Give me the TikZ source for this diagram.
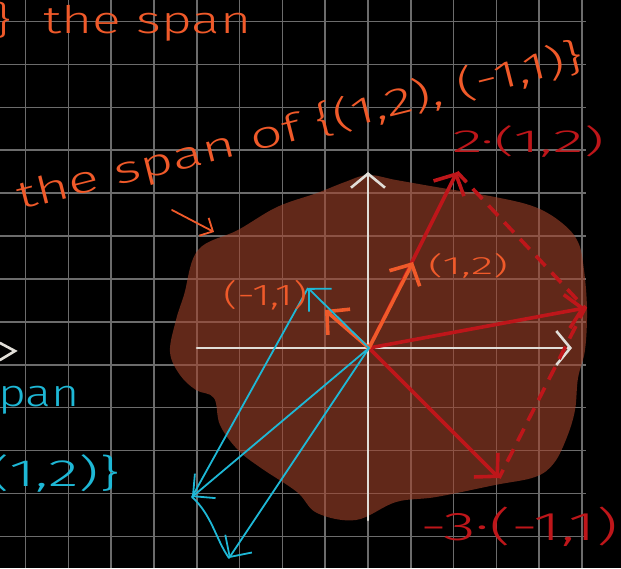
\documentclass[tikz,border=0pt]{standalone}
\usepackage{fontspec}
\setmainfont{Fira Sans}[UprightFont={* Light}]
\usetikzlibrary{arrows.meta}

\definecolor{gridgray}{RGB}{108,108,108}
\definecolor{blobbrown}{RGB}{162,67,43}
\definecolor{spanorange}{RGB}{240,90,42}
\definecolor{vecred}{RGB}{190,22,26}
\definecolor{spancyan}{RGB}{30,184,214}
\definecolor{axiswhite}{RGB}{225,222,216}

\newcommand{\handtext}[2]{\resizebox{#1}{\height}{#2}}

\begin{document}
\begin{tikzpicture}[x=1pt, y=-1pt,
    gridline/.style={draw=gridgray, line width=1.6pt},
    axis/.style={draw=axiswhite, line width=2.6pt, line cap=round, -{Straight Barb[length=14pt,width=34pt]}},
    vec/.style={line width=3.6pt, line cap=round, -{Straight Barb[length=16pt,width=34pt]}},
    thin vec/.style={draw=spancyan, line width=1.8pt, line cap=round, -{Straight Barb[length=16pt,width=32pt]}},
    helper/.style={draw=vecred, line width=3.6pt, dash pattern=on 14pt off 9pt},
    lbl/.style={inner sep=0pt, anchor=base west}
]
\useasboundingbox (0,0) rectangle (621,568);
\fill[black] (0,0) rectangle (621,568);
\foreach \gx in {0,...,13}
  \draw[gridline] ({25.6+42.8*\gx},0) -- ({25.6+42.8*\gx},568);
\foreach \gy in {0,...,12}
  \draw[gridline] (0,{21.5+42.9*\gy}) -- (586,{21.5+42.9*\gy});
\fill[blobbrown, opacity=0.6] plot[smooth cycle, tension=0.6] coordinates {
  (198,250) (238,230) (277,207) (317,193) (345,182) (368,175) (396,180) (436,187)
  (495,197) (535,207) (562,223) (578,242) (584,270) (587,310) (585,350) (578,378)
  (575,410) (567,437) (554,463) (535,477) (495,485) (436,497) (396,502) (356,520)
  (317,513) (297,492) (261,468) (238,450) (220,425) (214,398) (196,390) (180,375)
  (170,352) (176,320) (184,295)};
\coordinate (O) at (369,348);
\coordinate (xend) at (572,348);
\coordinate (xstart) at (197,348);
\coordinate (yend) at (368,172);
\coordinate (ystart) at (368,520);
\coordinate (p12) at (413,262);
\coordinate (pm11) at (325,310);
\coordinate (q2) at (457,172);
\coordinate (qsum) at (585,308);
\coordinate (qm3) at (499,478);
\coordinate (ca) at (308,288);
\coordinate (cb) at (192,497);
\coordinate (cc) at (229,558);
\coordinate (ptail) at (172,210);
\coordinate (phead) at (214,232);
\draw[axis] (xstart) -- (xend);
\draw[axis] (ystart) -- (yend);
\draw[draw=axiswhite, line width=2.6pt, line cap=round] (0,343) -- (15,351) -- (0,360);
\draw[helper] (q2) -- (qsum) -- (qm3);
\draw[vec, vecred] (O) -- (q2);
\draw[vec, vecred] (O) -- (qsum);
\draw[vec, vecred] (O) -- (qm3);
\draw[vec, spanorange] (O) -- (p12);
\draw[vec, spanorange] (O) -- (pm11);
\draw[thin vec] (O) -- (ca);
\draw[draw=spancyan, line width=1.8pt] (ca) -- (cb);
\draw[thin vec] (O) -- (cb);
\draw[thin vec] (O) -- (cc);
\draw[draw=spancyan, line width=1.8pt, line cap=round] (cb) .. controls (212,515) and (216,540) .. (cc);
\draw[draw=spanorange, line width=1.8pt, line cap=round, -{Straight Barb[length=10pt,width=20pt]}] (ptail) -- (phead);
\node[lbl, spanorange, font=\fontsize{38}{38}\selectfont] (topspan) at (-6,33) {\handtext{257pt}{\}\hspace{0.6em}the span}};
\node[lbl, spanorange, rotate=14.1, font=\fontsize{38}{38}\selectfont] (spanof) at (20,210) {\handtext{583pt}{the span of \{(1,2), (-1,1)\}}};
\node[lbl, vecred, font=\fontsize{32}{32}\selectfont] (twice) at (452,152) {\handtext{152pt}{2·(1,2)}};
\node[lbl, spanorange, font=\fontsize{25}{25}\selectfont] (u12) at (428,274) {\handtext{80pt}{(1,2)}};
\node[lbl, spanorange, font=\fontsize{30}{30}\selectfont] (um11) at (223,305) {\handtext{84pt}{(-1,1)}};
\node[lbl, vecred, font=\fontsize{40}{40}\selectfont] (thrice) at (420,540) {\handtext{198pt}{-3·(-1,1)}};
\node[inner sep=0pt, anchor=base east, spancyan, font=\fontsize{38}{38}\selectfont] (cspan) at (80,406) {\handtext{104pt}{span}};
\node[inner sep=0pt, anchor=base east, spancyan, font=\fontsize{38}{38}\selectfont] (cvec) at (120,486) {\handtext{130pt}{(1,2)\}}};
\end{tikzpicture}
\end{document}
